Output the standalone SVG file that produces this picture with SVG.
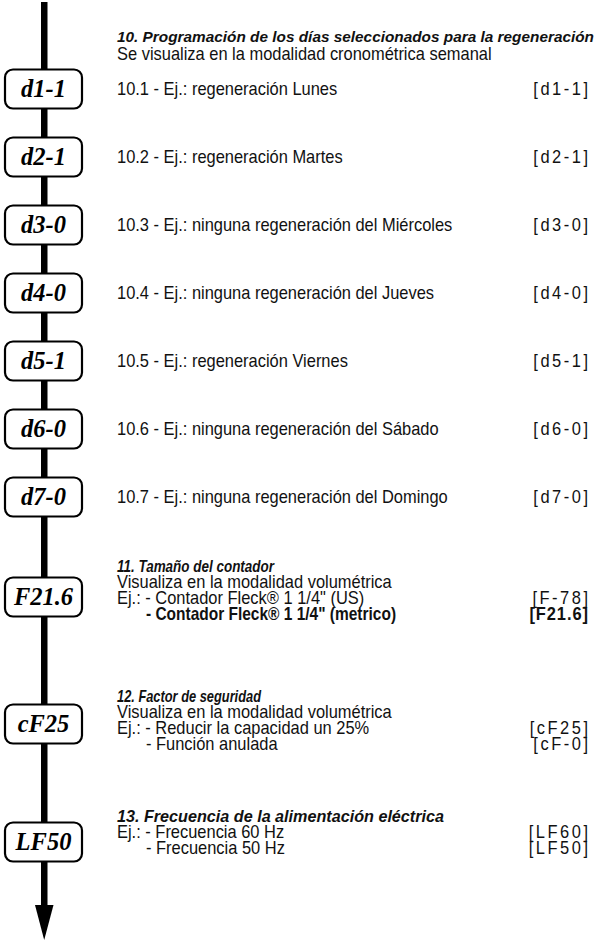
<svg xmlns="http://www.w3.org/2000/svg" width="602" height="941" viewBox="0 0 602 941">
<style>
.bg{fill:#fff}
.box rect{fill:#fff;stroke:#000;stroke-width:2.2}
.box text{font-family:"Liberation Serif","Times New Roman",serif;font-weight:bold;font-style:italic;font-size:24.5px;text-anchor:middle;fill:#000}
.t{font-family:"Liberation Sans",Arial,sans-serif;font-size:17.5px;fill:#111}
.h{font-family:"Liberation Sans",Arial,sans-serif;font-size:17px;font-weight:bold;font-style:italic;fill:#111}
.b{font-weight:bold}
.c{font-family:"Liberation Sans",Arial,sans-serif;font-size:17.5px;fill:#111;text-anchor:end;letter-spacing:2.7px}
</style>
<rect class="bg" x="0" y="0" width="602" height="941"/>
<g id="connectors">
<rect x="41" y="2" width="6.5" height="905" fill="#000"/>
<polygon points="35,905 53.5,905 44.2,940" fill="#000"/>
</g>
<g id="n-d1" class="box"><rect x="5" y="69.5" width="77" height="39" rx="8"/><text x="43.5" y="97">d1-1</text></g>
<g id="n-d2" class="box"><rect x="5" y="137.5" width="77" height="39" rx="8"/><text x="43.5" y="165">d2-1</text></g>
<g id="n-d3" class="box"><rect x="5" y="205.5" width="77" height="39" rx="8"/><text x="43.5" y="233">d3-0</text></g>
<g id="n-d4" class="box"><rect x="5" y="273.5" width="77" height="39" rx="8"/><text x="43.5" y="301">d4-0</text></g>
<g id="n-d5" class="box"><rect x="5" y="341.5" width="77" height="39" rx="8"/><text x="43.5" y="369">d5-1</text></g>
<g id="n-d6" class="box"><rect x="5" y="409.5" width="77" height="39" rx="8"/><text x="43.5" y="437">d6-0</text></g>
<g id="n-d7" class="box"><rect x="5" y="477.5" width="77" height="39" rx="8"/><text x="43.5" y="505">d7-0</text></g>
<g id="n-F" class="box"><rect x="5" y="577.5" width="77" height="39" rx="8"/><text x="43.5" y="605">F21.6</text></g>
<g id="n-cF" class="box"><rect x="5" y="704.5" width="77" height="39" rx="8"/><text x="43.5" y="732">cF25</text></g>
<g id="n-LF" class="box"><rect x="5" y="822.5" width="77" height="39" rx="8"/><text x="43.5" y="850">LF50</text></g>
<g id="titles">
<text class="h" x="117" y="42" style="font-size:15.4px" textLength="477" lengthAdjust="spacingAndGlyphs">10. Programación de los días seleccionados para la regeneración</text>
<text class="h" x="117" y="572" textLength="157" lengthAdjust="spacingAndGlyphs">11. Tamaño del contador</text>
<text class="h" x="117" y="702" textLength="144" lengthAdjust="spacingAndGlyphs">12. Factor de seguridad</text>
<text class="h" x="117" y="822" textLength="327" lengthAdjust="spacingAndGlyphs">13. Frecuencia de la alimentación eléctrica</text>
</g>
<g id="body" transform="translate(117 0) scale(0.94 1)">
<text class="t" x="0" y="60">Se visualiza en la modalidad cronométrica semanal</text>
<text class="t" x="0" y="95">10.1 - Ej.: regeneración Lunes</text><text class="c" x="503.8" y="95">[d1-1]</text>
<text class="t" x="0" y="163">10.2 - Ej.: regeneración Martes</text><text class="c" x="503.8" y="163">[d2-1]</text>
<text class="t" x="0" y="231">10.3 - Ej.: ninguna regeneración del Miércoles</text><text class="c" x="503.8" y="231">[d3-0]</text>
<text class="t" x="0" y="299">10.4 - Ej.: ninguna regeneración del Jueves</text><text class="c" x="503.8" y="299">[d4-0]</text>
<text class="t" x="0" y="367">10.5 - Ej.: regeneración Viernes</text><text class="c" x="503.8" y="367">[d5-1]</text>
<text class="t" x="0" y="435">10.6 - Ej.: ninguna regeneración del Sábado</text><text class="c" x="503.8" y="435">[d6-0]</text>
<text class="t" x="0" y="503">10.7 - Ej.: ninguna regeneración del Domingo</text><text class="c" x="503.8" y="503">[d7-0]</text>
<text class="t" x="0" y="588">Visualiza en la modalidad volumétrica</text>
<text class="t" x="0" y="604">Ej.: - Contador Fleck® 1 1/4" (US)</text><text class="c" x="503.8" y="604">[F-78]</text>
<text class="t b" x="30.85" y="620" textLength="266" lengthAdjust="spacingAndGlyphs">- Contador Fleck® 1 1/4" (metrico)</text><text class="c b" x="502.1" y="620" style="letter-spacing:1px">[F21.6]</text>
<text class="t" x="0" y="718">Visualiza en la modalidad volumétrica</text>
<text class="t" x="0" y="734">Ej.: - Reducir la capacidad un 25%</text><text class="c" x="503.8" y="734">[cF25]</text>
<text class="t" x="30.85" y="750">- Función anulada</text><text class="c" x="503.8" y="750">[cF-0]</text>
<text class="t" x="0" y="838">Ej.: - Frecuencia 60 Hz</text><text class="c" x="503.8" y="838">[LF60]</text>
<text class="t" x="30.85" y="854">- Frecuencia 50 Hz</text><text class="c" x="503.8" y="854">[LF50]</text>
</g>
</svg>
